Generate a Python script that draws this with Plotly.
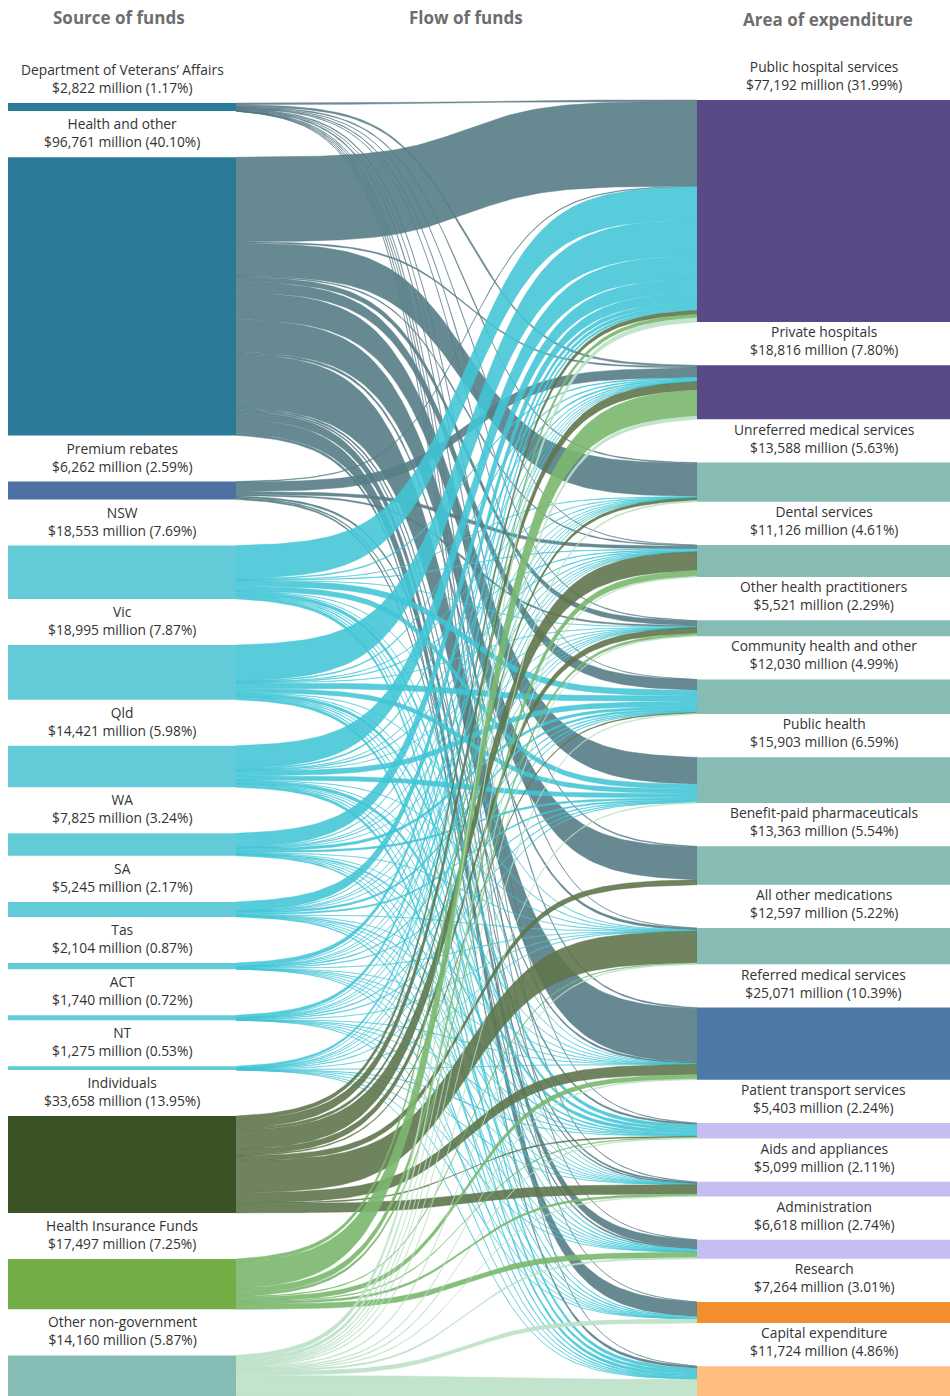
import numpy as np
import plotly.graph_objects as go

# ---- data ($ million) ----
sources = ["Department of Veterans\u2019 Affairs", "Health and other", "Premium rebates",
           "NSW", "Vic", "Qld", "WA", "SA", "Tas", "ACT", "NT",
           "Individuals", "Health Insurance Funds", "Other non-government"]
source_values = [2822, 96761, 6262, 18553, 18995, 14421, 7825, 5245, 2104, 1740, 1275,
                 33658, 17497, 14160]
source_pct = ["1.17", "40.10", "2.59", "7.69", "7.87", "5.98", "3.24", "2.17", "0.87",
              "0.72", "0.53", "13.95", "7.25", "5.87"]

targets = ["Public hospital services", "Private hospitals", "Unreferred medical services",
           "Dental services", "Other health practitioners", "Community health and other",
           "Public health", "Benefit-paid pharmaceuticals", "All other medications",
           "Referred medical services", "Patient transport services", "Aids and appliances",
           "Administration", "Research", "Capital expenditure"]
target_values = [77192, 18816, 13588, 11126, 5521, 12030, 15903, 13363, 12597, 25071,
                 5403, 5099, 6618, 7264, 11724]
target_pct = ["31.99", "7.80", "5.63", "4.61", "2.29", "4.99", "6.59", "5.54", "5.22",
              "10.39", "2.24", "2.11", "2.74", "3.01", "4.86"]

# flows from each source, in the order of the targets above (estimated)
dva = [500, 600, 300, 100, 200, 50, 0, 300, 50, 400, 100, 150, 50, 10, 12]
health_other = [29400, 400, 11500, 300, 1650, 3695, 9390, 11300, 750, 18650, 550, 458, 2813, 5116, 786]
premium_rebates = [200, 3300, 0, 1000, 450, 0, 0, 0, 0, 550, 0, 300, 462, 0, 0]
nsw = [11500, 300, 100, 150, 60, 2000, 1700, 0, 80, 50, 1100, 30, 300, 183, 1000]
vic = [12500, 300, 100, 200, 60, 1900, 1500, 0, 80, 50, 900, 30, 225, 250, 900]
qld = [8000, 400, 100, 250, 40, 1700, 1500, 0, 60, 40, 1000, 20, 200, 211, 900]
wa = [4900, 200, 50, 150, 20, 855, 600, 0, 30, 20, 400, 10, 120, 70, 400]
sa = [3200, 100, 30, 100, 10, 600, 440, 0, 20, 20, 300, 5, 80, 40, 300]
tas = [1300, 50, 10, 30, 5, 250, 200, 0, 10, 10, 100, 2, 40, 10, 87]
act = [1000, 30, 10, 20, 3, 250, 200, 0, 10, 5, 80, 2, 30, 5, 95]
nt = [700, 20, 50, 30, 2, 150, 120, 0, 10, 5, 100, 1, 30, 5, 52]
individuals = [1300, 2900, 900, 6500, 2000, 300, 0, 1763, 11000, 3500, 300, 3195, 0, 0, 0]
health_insurance = [1200, 9100, 0, 2000, 800, 0, 0, 0, 200, 1500, 200, 697, 1800, 0, 0]
other_nongov = [1492, 1116, 438, 296, 221, 280, 253, 0, 297, 271, 273, 199, 468, 1364, 7192]

flows = [dva, health_other, premium_rebates, nsw, vic, qld, wa, sa, tas, act, nt,
         individuals, health_insurance, other_nongov]

# ---- styling ----
STATE = "#63cbd8"
source_colors = ["#2b7b98", "#2b7b98", "#4e71a3"] + [STATE] * 8 + ["#3a5325", "#72ad46", "#85bcb6"]
GREY_LINK = "rgba(86,125,134,0.9)"
CYAN_LINK = "rgba(65,197,214,0.88)"
link_colors = ["rgba(80,115,128,0.8)", GREY_LINK, GREY_LINK] + [CYAN_LINK] * 8 + \
              ["rgba(94,118,76,0.9)", "rgba(122,183,110,0.9)", "rgba(188,225,199,0.9)"]
target_colors = ["#574a86", "#574a86"] + ["#86bcb4"] * 7 + ["#4e79a7"] + ["#c6bdf0"] * 3 + \
                ["#f28e2b", "#ffbe7d"]

KY = 0.002875            # px per $ million
LX0, LX1 = 8, 236        # source column
RX0, RX1 = 697, 950      # target column
LEFT_TOP, LEFT_GAP = 103, 46.1
RIGHT_TOP, RIGHT_GAP = 100, 43.3


def stack(values, top, gap):
    tops = []
    y = top
    for v in values:
        tops.append(y)
        y += v * KY + gap
    return tops


src_tops = stack(source_values, LEFT_TOP, LEFT_GAP)
tgt_tops = stack(target_values, RIGHT_TOP, RIGHT_GAP)

ns, nt_ = len(sources), len(targets)
src_y = {}
for i in range(ns):
    y = src_tops[i]
    for j in range(nt_):
        src_y[i, j] = y
        y += flows[i][j] * KY
tgt_y = {}
for j in range(nt_):
    y = tgt_tops[j]
    for i in range(ns):
        tgt_y[i, j] = y
        y += flows[i][j] * KY

# sigmoid link shape
t = np.linspace(0, 1, 90)
bx = LX1 + (RX0 - LX1) * t
sig = 1 / (1 + np.exp(-(12 * t - 6)))
h = (sig - sig[0]) / (sig[-1] - sig[0])


def curve(y0, y1):
    return y0 + (y1 - y0) * h


fig = go.Figure()

# links
for i in range(ns):
    for j in range(nt_):
        v = flows[i][j]
        if v <= 0:
            continue
        s0, t0 = src_y[i, j], tgt_y[i, j]
        s1, t1 = s0 + v * KY, t0 + v * KY
        xs = np.concatenate([bx, bx[::-1]])
        ys = np.concatenate([curve(s0, t0), curve(s1, t1)[::-1]])
        fig.add_trace(go.Scatter(x=xs, y=ys, mode="lines", fill="toself",
                                 fillcolor=link_colors[i],
                                 line=dict(color=link_colors[i], width=0.5),
                                 hoverinfo="skip", showlegend=False))

# nodes
def add_node(x0, x1, top, value, color):
    y1 = top + value * KY
    fig.add_trace(go.Scatter(x=[x0, x1, x1, x0, x0], y=[top, top, y1, y1, top],
                             mode="lines", fill="toself", fillcolor=color,
                             line=dict(width=0), hoverinfo="skip", showlegend=False))


for i in range(ns):
    add_node(LX0, LX1, src_tops[i], source_values[i], source_colors[i])
for j in range(nt_):
    add_node(RX0, RX1, tgt_tops[j], target_values[j], target_colors[j])

annotations = []
for name, val, pct, top in zip(sources, source_values, source_pct, src_tops):
    annotations.append(dict(x=(LX0 + LX1) / 2, y=top - 4, yanchor="bottom",
                            text=f"{name}<br>${val:,} million ({pct}%)"))
for name, val, pct, top in zip(targets, target_values, target_pct, tgt_tops):
    annotations.append(dict(x=(RX0 + RX1) / 2, y=top - 4, yanchor="bottom",
                            text=f"{name}<br>${val:,} million ({pct}%)"))
for a in annotations:
    a.update(xref="x", yref="y", showarrow=False, xanchor="center",
             font=dict(size=13.8, color="#333333"))

for title, x, y in [("Source of funds", 119, 17), ("Flow of funds", 466, 17),
                    ("Area of expenditure", 828, 19)]:
    annotations.append(dict(x=x, y=y, xref="x", yref="y", text=f"<b>{title}</b>",
                            showarrow=False, xanchor="center", yanchor="middle",
                            font=dict(size=17, color="#6e6e6e")))

W, H = 950, 1396
fig.update_layout(
    width=W, height=H,
    margin=dict(l=0, r=0, t=0, b=0),
    paper_bgcolor="white", plot_bgcolor="white",
    font=dict(family="Open Sans, sans-serif"),
    xaxis=dict(range=[0, W], visible=False, fixedrange=True),
    yaxis=dict(range=[H, 0], visible=False, fixedrange=True),
    annotations=annotations,
)

# drop the default page margin so the figure fills the window exactly
fig.write_html("out.html", config={"displayModeBar": False},
               post_script="document.body.style.margin = '0';")
